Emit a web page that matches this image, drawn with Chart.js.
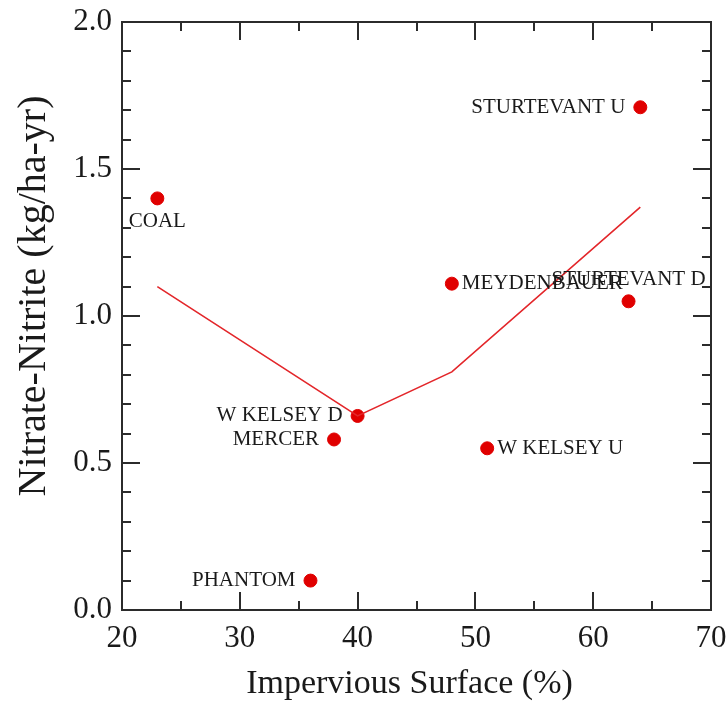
<!DOCTYPE html>
<html>
<head>
<meta charset="utf-8">
<title>Nitrate-Nitrite vs Impervious Surface</title>
<script src="https://cdn.jsdelivr.net/npm/chart.js@4.4.1/dist/chart.umd.min.js"></script>
<style>
  html, body { margin: 0; padding: 0; background: #fff; }
  #wrap { width: 728px; height: 704px; }
</style>
</head>
<body>
<div id="wrap"><canvas id="chart" width="728" height="704"></canvas></div>
<script>
// --- data ---
const siteNames = ['COAL', 'PHANTOM', 'MERCER', 'W KELSEY D', 'MEYDENBAUER', 'W KELSEY U', 'STURTEVANT D', 'STURTEVANT U'];
const imperviousPct = [23, 36, 38, 40, 48, 51, 63, 64];
const nitrateLoad = [1.40, 0.10, 0.58, 0.66, 1.11, 0.55, 1.05, 1.71];

// fitted trend line
const trendX = [23, 40, 48, 64];
const trendY = [1.10, 0.66, 0.81, 1.37];

// where each site label sits relative to its dot
const labelSide = {
  'COAL': 'below',
  'PHANTOM': 'left',
  'MERCER': 'left',
  'W KELSEY D': 'left',
  'MEYDENBAUER': 'right',
  'W KELSEY U': 'right',
  'STURTEVANT D': 'above',
  'STURTEVANT U': 'left'
};

const X_TITLE = 'Impervious Surface (%)';
const Y_TITLE = 'Nitrate-Nitrite (kg/ha-yr)';

const SERIF = "'Liberation Serif', 'Times New Roman', serif";
const INK = '#2b2b2b';
const TEXT = '#1a1a1a';
const RED = '#e00000';

// inward ticks on all four sides plus the box frame
const frameTicks = {
  id: 'frameTicks',
  afterDraw(chart) {
    const { ctx, chartArea: a, scales } = chart;
    const xs = scales.x, ys = scales.y;
    ctx.save();
    ctx.strokeStyle = INK;
    ctx.lineWidth = 2;
    ctx.lineCap = 'butt';

    const xMinor = 5, xMajor = 10, yMinor = 0.1, yMajor = 0.5;
    ctx.beginPath();
    for (let v = xs.min; v <= xs.max + 1e-9; v += xMinor) {
      const px = Math.round(xs.getPixelForValue(v));
      const len = Math.abs(v / xMajor - Math.round(v / xMajor)) < 1e-6 ? 18 : 9;
      ctx.moveTo(px, a.bottom); ctx.lineTo(px, a.bottom - len);
      ctx.moveTo(px, a.top); ctx.lineTo(px, a.top + len);
    }
    for (let i = 0; ; i++) {
      const v = ys.min + i * yMinor;
      if (v > ys.max + 1e-9) break;
      const py = Math.round(ys.getPixelForValue(v));
      const len = Math.abs(v / yMajor - Math.round(v / yMajor)) < 1e-6 ? 18 : 9;
      ctx.moveTo(a.left, py); ctx.lineTo(a.left + len, py);
      ctx.moveTo(a.right, py); ctx.lineTo(a.right - len, py);
    }
    ctx.stroke();
    ctx.strokeRect(a.left, a.top, a.right - a.left, a.bottom - a.top);
    ctx.restore();
  }
};

// axis titles, placed by hand
const axisTitles = {
  id: 'axisTitles',
  afterDraw(chart) {
    const { ctx, chartArea: a } = chart;
    ctx.save();
    ctx.fillStyle = TEXT;
    ctx.textAlign = 'center';
    ctx.textBaseline = 'middle';

    ctx.font = '34px ' + SERIF;
    ctx.fillText(X_TITLE, (a.left + a.right) / 2 - 7, 684);

    ctx.translate(34, (a.top + a.bottom) / 2 - 20);
    ctx.rotate(-Math.PI / 2);
    ctx.font = '40px ' + SERIF;
    ctx.fillText(Y_TITLE, 0, 0);
    ctx.restore();
  }
};

// site name next to each dot
const siteLabels = {
  id: 'siteLabels',
  afterDatasetsDraw(chart) {
    const { ctx } = chart;
    const meta = chart.getDatasetMeta(1);
    ctx.save();
    ctx.font = '21px ' + SERIF;
    ctx.fillStyle = TEXT;
    meta.data.forEach((pt, i) => {
      const name = siteNames[i];
      const side = labelSide[name];
      let x = pt.x, y = pt.y;
      ctx.textBaseline = 'middle';
      if (side === 'left') { ctx.textAlign = 'right'; x -= 15; }
      else if (side === 'right') { ctx.textAlign = 'left'; x += 10; }
      else if (side === 'below') { ctx.textAlign = 'center'; y += 23; }
      else { ctx.textAlign = 'center'; y -= 22; }
      ctx.fillText(name, x, y);
    });
    ctx.restore();
  }
};

new Chart(document.getElementById('chart'), {
  type: 'scatter',
  data: {
    datasets: [
      {
        label: 'Trend',
        data: trendX.map((x, i) => ({ x: x, y: trendY[i] })),
        showLine: true,
        borderColor: '#e3262a',
        borderWidth: 1.6,
        pointRadius: 0,
        tension: 0
      },
      {
        label: 'Sites',
        data: imperviousPct.map((x, i) => ({ x: x, y: nitrateLoad[i] })),
        backgroundColor: RED,
        borderColor: RED,
        pointRadius: 6.5,
        pointHoverRadius: 6.5
      }
    ]
  },
  options: {
    responsive: false,
    animation: false,
    devicePixelRatio: 1,
    layout: { padding: { top: 22, right: 17, left: 0, bottom: 0 } },
    plugins: {
      legend: { display: false },
      tooltip: { enabled: false }
    },
    scales: {
      x: {
        type: 'linear',
        min: 20,
        max: 70,
        grid: { display: false, drawTicks: false },
        border: { display: false },
        ticks: {
          stepSize: 10,
          padding: 10,
          color: TEXT,
          font: { family: SERIF, size: 31 }
        },
        afterFit(scale) {
          scale.height = 94;
          scale.paddingLeft = 0;
          scale.paddingRight = 0;
        }
      },
      y: {
        type: 'linear',
        min: 0,
        max: 2,
        grid: { display: false, drawTicks: false },
        border: { display: false },
        ticks: {
          stepSize: 0.5,
          padding: 10,
          color: TEXT,
          font: { family: SERIF, size: 31 },
          callback: v => v.toFixed(1)
        },
        afterFit(scale) {
          scale.width = 122;
          scale.paddingTop = 0;
          scale.paddingBottom = 0;
        }
      }
    }
  },
  plugins: [frameTicks, axisTitles, siteLabels]
});
</script>
</body>
</html>
